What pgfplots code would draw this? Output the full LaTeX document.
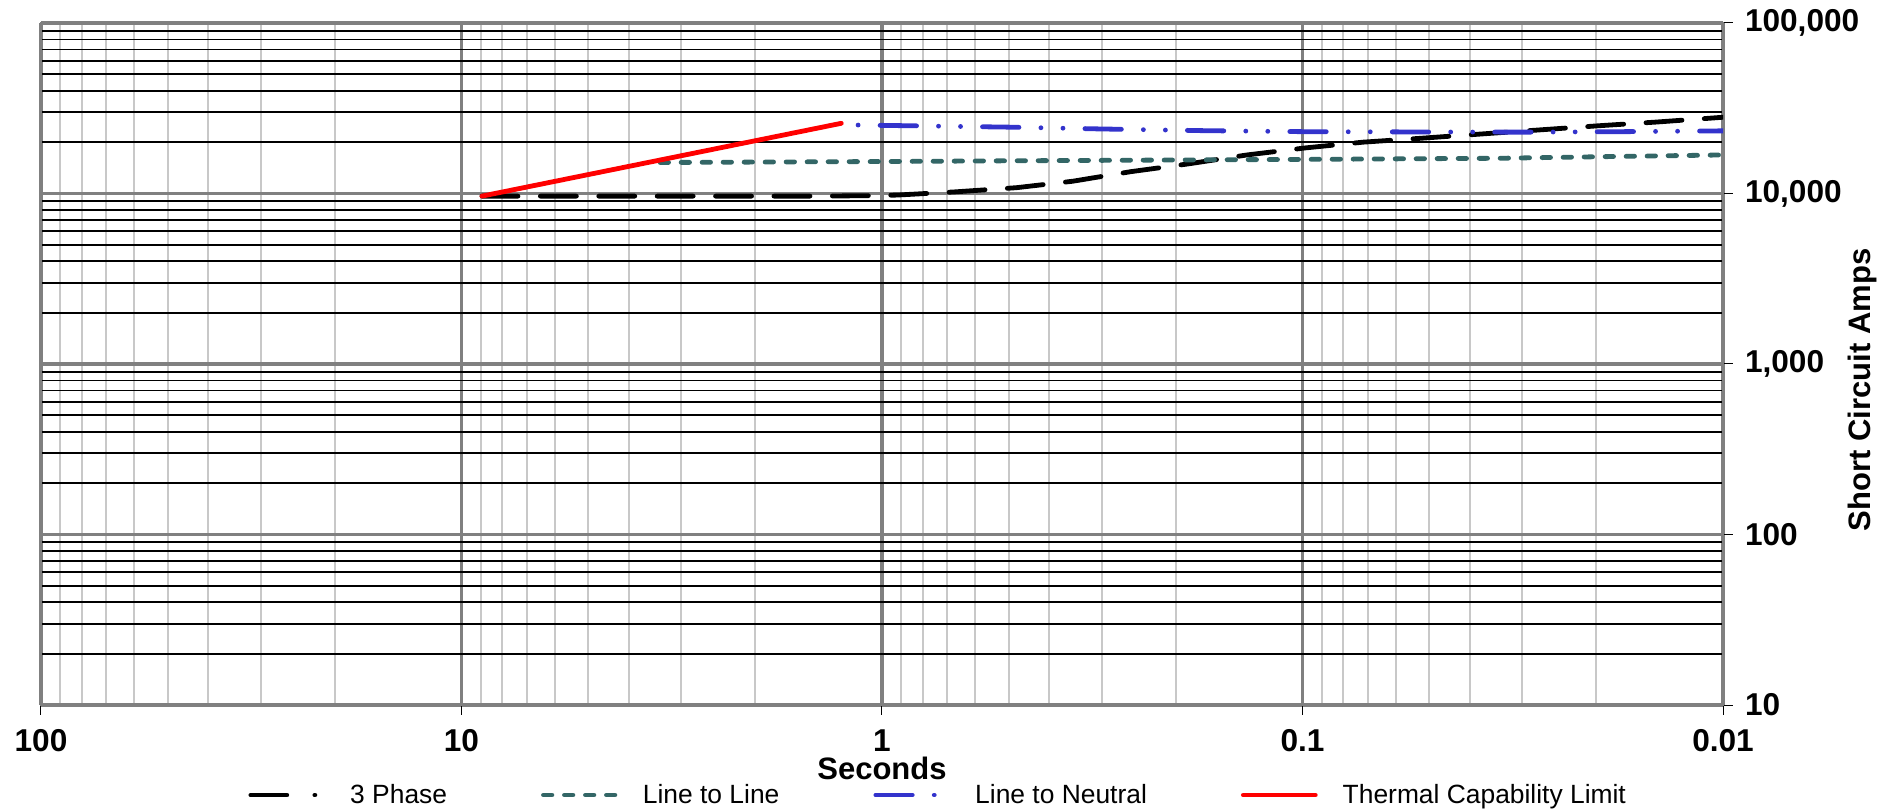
\documentclass[border=0pt]{standalone}
\usepackage{fontspec}
\setmainfont{Liberation Sans}
\usepackage{pgfplots}
\pgfplotsset{compat=1.18}
\definecolor{gridgray}{RGB}{128,128,128}
\definecolor{minorgray}{RGB}{200,200,200}
\definecolor{tealc}{RGB}{51,102,102}
\definecolor{bluec}{RGB}{51,51,204}
\begin{document}
\begin{tikzpicture}
\begin{axis}[
  scale only axis, width=841pt, height=341pt,
  xmode=log, ymode=log, x dir=reverse,
  xmin=0.01, xmax=100, ymin=10, ymax=100000,
  xtick={0.01,0.1,1,10,100}, xticklabels={0.01,0.1,1,10,100},
  ytick={10,100,1000,10000,100000}, yticklabels={10,100,{1,000},{10,000},{100,000}},
  minor xtick={0.02,0.03,0.04,0.05,0.06,0.07,0.08,0.09,0.2,0.3,0.4,0.5,0.6,0.7,0.8,0.9,2,3,4,5,6,7,8,9,20,30,40,50,60,70,80,90},
  minor ytick={20,30,40,50,60,70,80,90,200,300,400,500,600,700,800,900,2000,3000,4000,5000,6000,7000,8000,9000,20000,30000,40000,50000,60000,70000,80000,90000},
  grid=both,
  major grid style={gridgray, line width=1.6pt},
  minor x grid style={minorgray, line width=1pt},
  minor y grid style={black, line width=0.9pt},
  axis line style={gridgray, line width=1.2pt},
  tick align=outside, xtick pos=bottom, ytick pos=right, yticklabel pos=right,
  major tick length=5pt, minor tick length=0pt,
  major tick style={black, line width=0.5pt},
  ticklabel style={font=\fontsize{15.8}{18}\selectfont\bfseries},
  xticklabel style={anchor=base, yshift=-18.5pt},
  yticklabel style={anchor=west, xshift=2.5pt},
  xlabel={Seconds}, ylabel={Short Circuit Amps},
  every axis x label/.style={at={(axis description cs:0.5,-0.1095)}, anchor=base, font=\fontsize{15.5}{18}\selectfont\bfseries},
  every axis y label/.style={at={(axis description cs:1.0874,0.462)}, rotate=90, anchor=base, font=\fontsize{15.5}{18}\selectfont\bfseries},
  legend columns=4,
  legend cell align=left,
  legend image code/.code={\draw[#1] (0pt,0pt) -- (36pt,0pt);},
  legend style={at={(axis description cs:0.1231,-0.132)}, anchor=west, draw=none, fill=none, inner sep=0pt,
    font=\fontsize{13.2}{15}\selectfont,
    /tikz/every odd column/.append style={column sep=10.5pt},
    /tikz/every even column/.append style={column sep=45pt}},
]
\addplot[black, line width=2.4pt, line cap=round, dash pattern=on 18pt off 11.2pt,
  legend image post style={dash pattern=on 18pt off 14pt on 0.01pt off 5pt}] coordinates {
 (8.94,9650) (3,9650) (1.5,9650) (1.1,9700) (0.92,9790) (0.67,10220) (0.478,10820) (0.352,11800)
 (0.256,13430) (0.186,14940) (0.1355,16830) (0.098,18530) (0.0718,20000) (0.052,21100)
 (0.0379,22300) (0.0198,24950) (0.01437,26250) (0.01,28000)};
\addlegendentry{3 Phase}
\addplot[tealc, line width=2.4pt, line cap=round, dash pattern=on 4.2pt off 6.3pt] coordinates {
 (3.37,15200) (1,15400) (0.5,15550) (0.1,15850) (0.034,16090) (0.0194,16440) (0.01,16830)};
\addlegendentry{Line to Line}
\addplot[bluec, line width=2.4pt, line cap=round, dash pattern=on 18.2pt off 11pt on 0.01pt off 11pt on 0.01pt off 11pt, dash phase=40.2pt,
  legend image post style={dash phase=0pt}] coordinates {
 (1.14,25200) (0.8,24900) (0.5,24500) (0.3,23900) (0.17,23350) (0.1,23050) (0.05,22950)
 (0.03,22900) (0.018,23030) (0.01,23300)};
\addlegendentry{Line to Neutral}
\addplot[red, line width=2.4pt, line cap=round] coordinates {(8.94,9650) (1.25,25800)};
\addlegendentry{Thermal Capability Limit}
\end{axis}
\pgfresetboundingbox
\path[use as bounding box] ([shift={(-20.5pt,-52pt)}]current axis.south west) rectangle ([shift={(79.5pt,11.5pt)}]current axis.north east);
\end{tikzpicture}
\end{document}
